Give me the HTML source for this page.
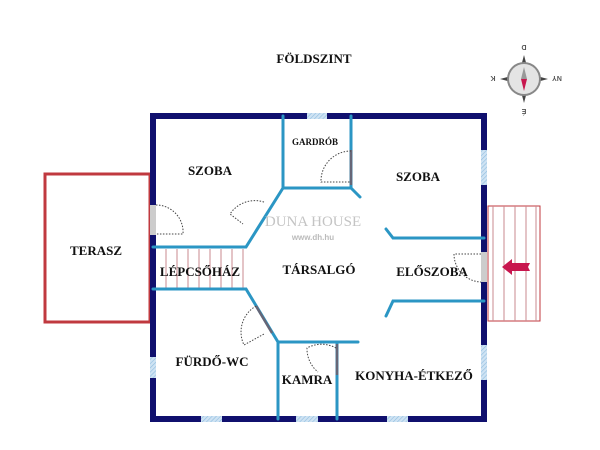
<!DOCTYPE html>
<html><head><meta charset="utf-8"><style>
html,body{margin:0;padding:0;background:#fff;width:600px;height:450px;overflow:hidden}
text{font-family:"Liberation Serif",serif;font-weight:bold;fill:#111}
</style></head><body>
<svg width="600" height="450" viewBox="0 0 600 450" xmlns="http://www.w3.org/2000/svg">
<defs>
<pattern id="h" width="3" height="3" patternUnits="userSpaceOnUse" patternTransform="rotate(45)">
<rect width="3" height="3" fill="#cfe3f3"/><line x1="0" y1="0" x2="0" y2="3" stroke="#8fbde0" stroke-width="1.2"/></pattern>
</defs>
<text x="314" y="63" font-size="13" text-anchor="middle">FÖLDSZINT</text>
<!-- compass -->
<g transform="translate(524,79)">
<polygon points="0,-24 5,-5 24,0 5,5 0,24 -5,5 -24,0 -5,-5" fill="#444"/>
<circle r="17" fill="#888"/><circle r="15" fill="#e4e4e4"/>
<polygon points="0,-12 3,0 -3,0" fill="#999"/>
<polygon points="0,12 3,0 -3,0" fill="#c8164e"/>
<text transform="translate(0,-31) rotate(180)" font-size="7" text-anchor="middle" style="fill:#555;font-family:'Liberation Sans',sans-serif" y="3">D</text>
<text transform="translate(0,33) rotate(180)" font-size="7" text-anchor="middle" style="fill:#555;font-family:'Liberation Sans',sans-serif" y="3">É</text>
<text transform="translate(-31,0) rotate(180)" font-size="7" text-anchor="middle" style="fill:#555;font-family:'Liberation Sans',sans-serif" y="3">K</text>
<text transform="translate(33,0) rotate(180)" font-size="7" text-anchor="middle" style="fill:#555;font-family:'Liberation Sans',sans-serif" y="3">NY</text>
</g>
<!-- terasz -->
<rect x="45" y="174" width="105" height="148" fill="none" stroke="#c0393f" stroke-width="3"/>
<!-- entry stairs -->
<rect x="488" y="206" width="52" height="115" fill="none" stroke="#c0393f" stroke-width="1"/>
<g stroke="#c98a8f" stroke-width="1">
<line x1="493" y1="206" x2="493" y2="321"/><line x1="504" y1="206" x2="504" y2="321"/>
<line x1="515" y1="206" x2="515" y2="321"/><line x1="526" y1="206" x2="526" y2="321"/><line x1="536" y1="206" x2="536" y2="321"/>
</g>
<polygon points="502,267 512,259 512,263 530,263 528,267 530,271 512,271 512,275" fill="#c8164e"/>
<!-- stair hall lines -->
<g stroke="#c98a8f" stroke-width="1">
<line x1="166" y1="249" x2="166" y2="288"/><line x1="177" y1="249" x2="177" y2="288"/><line x1="188" y1="249" x2="188" y2="288"/>
<line x1="199" y1="249" x2="199" y2="288"/><line x1="210" y1="249" x2="210" y2="288"/><line x1="221" y1="249" x2="221" y2="288"/><line x1="232" y1="249" x2="232" y2="288"/><line x1="243" y1="249" x2="243" y2="288"/>
</g>
<!-- outer wall -->
<rect x="153" y="116" width="331" height="303" fill="none" stroke="#10106e" stroke-width="6"/>
<!-- windows -->
<rect x="307" y="113" width="20" height="6" fill="url(#h)"/>
<rect x="481" y="150" width="6" height="35" fill="url(#h)"/>
<rect x="481" y="345" width="6" height="35" fill="url(#h)"/>
<rect x="201" y="416" width="21" height="6" fill="url(#h)"/>
<rect x="296" y="416" width="22" height="6" fill="url(#h)"/>
<rect x="387" y="416" width="21" height="6" fill="url(#h)"/>
<rect x="150" y="357" width="6" height="21" fill="url(#h)"/>
<rect x="150" y="205" width="6" height="30" fill="#ccc"/>
<rect x="481" y="252" width="6" height="30" fill="#ccc"/>
<!-- inner walls -->
<g stroke="#2b96c4" stroke-width="3" fill="none" stroke-linecap="round">
<polyline points="283,116 283,188 351,188 351,116"/>
<line x1="351" y1="188" x2="360" y2="197"/>
<polyline points="283,188 246,247 153,247"/>
<polyline points="153,289 246,289 278,342 358,342"/>
<line x1="278" y1="342" x2="278" y2="419"/>
<line x1="337" y1="342" x2="337" y2="419"/>
<polyline points="386,229 393,238 484,238"/>
<polyline points="386,316 393,301 484,301"/>
</g>
<g stroke="#667" stroke-width="2.5">
<line x1="351" y1="150" x2="351" y2="185"/>
<line x1="256" y1="306" x2="272" y2="333"/>
<line x1="337" y1="344" x2="337" y2="375"/>
</g>
<!-- door swings -->
<g stroke="#444" stroke-width="1" stroke-dasharray="1.5,1.5" fill="none">
<path d="M156,205 A27,27 0 0 1 183,234 L156,234"/>
<path d="M351,151 A30,30 0 0 0 321,182 L351,182"/>
<path d="M264,202 A30,30 0 0 0 230,214 L243,224"/>
<path d="M256,306 A30,30 0 0 0 244,345 L264,334"/>
<path d="M336,348 A30,30 0 0 0 307,348 A30,30 0 0 0 318,372"/>
<path d="M481,254 L454,254 A28,28 0 0 0 481,282"/>
</g>
<!-- watermark -->
<text x="313" y="226" font-size="15" text-anchor="middle" style="fill:#c4c4c4;font-weight:normal">DUNA HOUSE</text>
<text x="313" y="240" font-size="8" text-anchor="middle" style="fill:#bbb;font-family:'Liberation Sans',sans-serif">www.dh.hu</text>
<!-- labels -->
<text x="210" y="175" font-size="13" text-anchor="middle">SZOBA</text>
<text x="315" y="145" font-size="9" text-anchor="middle">GARDRÓB</text>
<text x="418" y="181" font-size="13" text-anchor="middle">SZOBA</text>
<text x="96" y="255" font-size="13" text-anchor="middle">TERASZ</text>
<text x="200" y="276" font-size="13" text-anchor="middle">LÉPCSŐHÁZ</text>
<text x="319" y="274" font-size="13" text-anchor="middle">TÁRSALGÓ</text>
<text x="432" y="276" font-size="13" text-anchor="middle">ELŐSZOBA</text>
<text x="212" y="366" font-size="13" text-anchor="middle">FÜRDŐ-WC</text>
<text x="307" y="384" font-size="13" text-anchor="middle">KAMRA</text>
<text x="414" y="380" font-size="13" text-anchor="middle">KONYHA-ÉTKEZŐ</text>
</svg>
</body></html>
